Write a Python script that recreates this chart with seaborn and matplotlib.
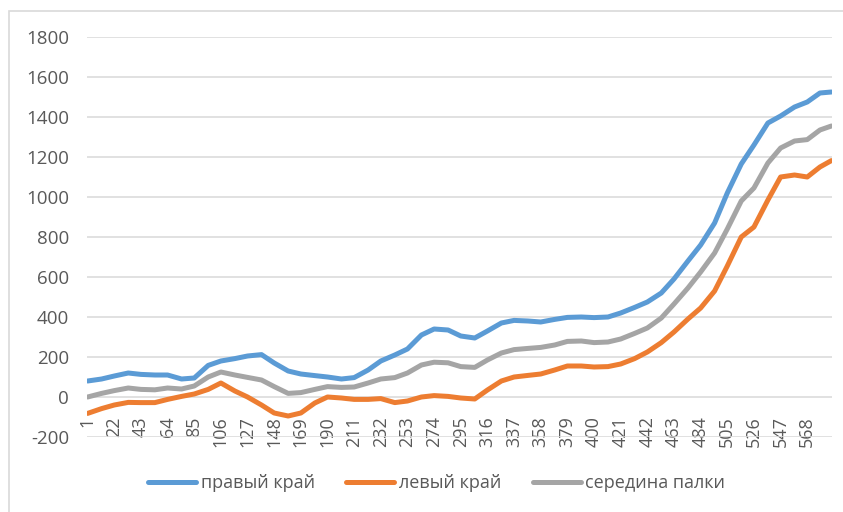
import pandas as pd
import matplotlib.pyplot as plt
import seaborn as sns
from matplotlib.patches import Rectangle

# === Data
sample_idx = [1, 12, 22, 33, 43, 54, 64, 75, 85, 96,
              106, 117, 127, 138, 148, 159, 169, 180, 190, 201,
              211, 222, 232, 243, 253, 264, 274, 285, 295, 306,
              316, 327, 337, 348, 358, 369, 379, 390, 400, 411,
              421, 432, 442, 453, 463, 474, 484, 495, 505, 516,
              526, 537, 547, 558, 568, 578, 587]

pravyi_krai = [80, 90, 105, 120, 113, 110, 110, 90, 95, 158,
               180, 192, 205, 212, 170, 130, 115, 107, 100, 90,
               97, 135, 180, 210, 240, 310, 340, 335, 305, 295,
               330, 370, 383, 380, 375, 388, 398, 400, 397, 400,
               420, 448, 475, 520, 590, 680, 760, 870, 1020, 1165,
               1260, 1370, 1405, 1450, 1475, 1520, 1525]

levyi_krai = [-82, -58, -40, -27, -28, -28, -12, 3, 15, 38,
              70, 30, 0, -40, -80, -95, -80, -30, 0, -5,
              -12, -12, -8, -28, -20, 0, 7, 3, -5, -10,
              35, 80, 100, 108, 115, 135, 155, 155, 150, 152,
              165, 192, 225, 272, 325, 390, 445, 530, 655, 800,
              850, 985, 1100, 1110, 1100, 1150, 1182]

seredina = [0, 18, 32, 45, 38, 36, 45, 40, 55, 100,
            125, 110, 98, 85, 52, 18, 22, 38, 52, 48,
            50, 70, 90, 97, 120, 160, 174, 171, 152, 148,
            185, 220, 237, 243, 248, 260, 278, 280, 272, 275,
            290, 318, 345, 395, 465, 545, 625, 720, 840, 980,
            1045, 1170, 1245, 1280, 1287, 1335, 1355]

series_names = ["правый край", "левый край", "середина палки"]
series_colors = ["#5B9BD5", "#ED7D31", "#A5A5A5"]
n_points = 587
x_ticks = list(range(1, 569, 21))
y_ticks = list(range(-200, 1801, 200))

df = pd.DataFrame({"idx": sample_idx,
                   series_names[0]: pravyi_krai,
                   series_names[1]: levyi_krai,
                   series_names[2]: seredina})
df_long = df.melt(id_vars="idx", var_name="serie", value_name="waarde")

# === Stijl
sns.set_style("white")
plt.rcParams["font.family"] = ["Open Sans", "DejaVu Sans"]
plt.rcParams["axes.unicode_minus"] = False
text_color = "#595959"

fig = plt.figure(figsize=(8.43, 5.12), dpi=100)
ax = fig.add_axes([87 / 843, 1 - 437 / 512, 745 / 843, 400 / 512])

sns.lineplot(data=df_long, x="idx", y="waarde", hue="serie",
             hue_order=series_names, palette=series_colors,
             linewidth=3.6, ax=ax, legend=True)

# categorie-as kruist bij 0 (zoals in Excel)
for side in ["left", "right", "top"]:
    ax.spines[side].set_visible(False)
ax.spines["bottom"].set_position(("data", 0))
ax.spines["bottom"].set_visible(False)

ax.set_xlim(0.5, n_points + 0.5)
ax.set_ylim(-200, 1800)
ax.set_yticks(y_ticks)
ax.set_xticks(x_ticks)
ax.set_xticklabels([str(t) for t in x_ticks])
ax.set_xlabel("")
ax.set_ylabel("")

ax.grid(axis="y", color="#D9D9D9", linewidth=1.1)
ax.grid(axis="x", visible=False)
ax.set_axisbelow(True)

ax.tick_params(axis="y", length=0, pad=13, labelsize=13.5, labelcolor=text_color)
ax.tick_params(axis="x", length=0, pad=14, labelsize=13, labelcolor=text_color,
               labelrotation=90)

handles, labels = ax.get_legend_handles_labels()
ax.legend(handles, labels, loc="center", bbox_to_anchor=(0.518, 0.0566),
          bbox_transform=fig.transFigure, ncol=3, frameon=False,
          fontsize=13, labelcolor=text_color, handlelength=2.65,
          handletextpad=0.25, columnspacing=1.75)

# Excel-achtige rand rond de grafiek
fig.patches.append(Rectangle((9 / 843, -0.02), 1.05, 1 - 11 / 512 + 0.02,
                             transform=fig.transFigure, fill=False,
                             edgecolor="#D9D9D9", linewidth=1.2))

fig.savefig("out.png", dpi=100)
